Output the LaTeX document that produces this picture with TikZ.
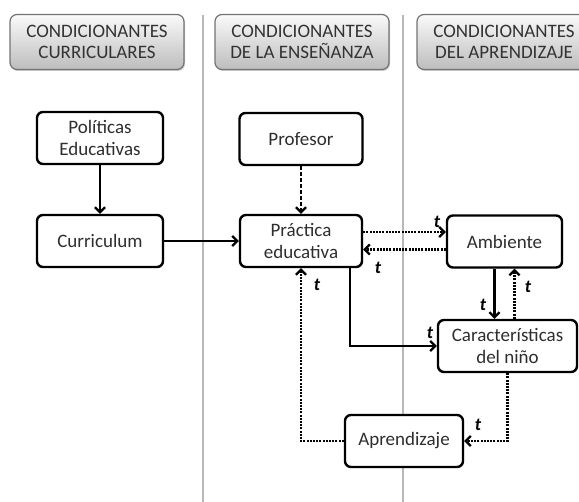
\documentclass[tikz,border=0pt]{standalone}
\usepackage{fontspec}
\setmainfont{Carlito}
\usetikzlibrary{arrows.meta,shadows}

\begin{document}
\begin{tikzpicture}[x=1pt,y=-1pt,
	every node/.style={align=center},
	header/.style={draw=black!55, line width=1.2pt, rounded corners=7pt,
		top color=black!2, bottom color=black!26, text=black!80,
		font=\fontsize{19}{21}\selectfont, minimum width=174pt, minimum height=55pt,
		drop shadow={shadow xshift=1pt,shadow yshift=-1.5pt,opacity=0.4}},
	block/.style={draw, line width=2.4pt, rounded corners=6pt, fill=white,
		text=black!82, font=\fontsize{19}{22}\selectfont, minimum height=52pt,
		drop shadow={shadow xshift=1pt,shadow yshift=-1pt,opacity=0.25}},
	separator/.style={draw=black!28, line width=2.5pt},
	link/.style={line width=2.3pt, -{Straight Barb[length=5pt,width=10pt]}},
	feedback/.style={link, dash pattern=on 2pt off 1.2pt},
	tlabel/.style={font=\fontsize{18}{18}\selectfont\bfseries\itshape, inner sep=0pt}]
\clip (0,0) rectangle (579,502);

% columnas
\draw[separator] (203,15) -- (203,502);
\draw[separator] (403,15) -- (403,502);

\node[header] (hcur) at (97,42) {CONDICIONANTES\\CURRICULARES};
\node[header] (hens) at (302,42) {CONDICIONANTES\\DE LA ENSEÑANZA};
\node[header] (hapr) at (504,42) {CONDICIONANTES\\DEL APRENDIZAJE};

\node[block, minimum width=126pt] (pol) at (100,138) {Políticas\\Educativas};
\node[block, minimum width=126pt] (cur) at (100,241) {Curriculum};
\node[block, minimum width=123pt] (prof) at (301,139) {Profesor};
\node[block, minimum width=122pt] (prac) at (301,241) {Práctica\\educativa};
\node[block, minimum width=115pt] (amb) at (504.5,241.5) {Ambiente};
\node[block, minimum width=139pt] (car) at (507.5,346) {Características\\del niño};
\node[block, minimum width=118pt] (apr) at (404,441) {Aprendizaje};

\draw[link] (pol) -- (cur);
\draw[link] (cur) -- (prac);
\draw[link, dash pattern=on 4pt off 2pt] (prof) -- (prac);
\draw[feedback] ([yshift=9pt]prac.east) -- ([yshift=9pt]prac.east -| amb.west);
\draw[feedback] ([yshift=-8pt]amb.west) -- ([yshift=-8pt]amb.west -| prac.east);
\draw[link] ([xshift=-10pt]amb.south) -- ([xshift=-10pt]amb.south |- car.north);
\draw[feedback] ([xshift=10pt]amb.south |- car.north) -- ([xshift=10pt]amb.south);
\draw[link] ([xshift=49pt]prac.south) |- (car.west);
\draw[feedback] (car.south) |- (apr.east);
\draw[feedback] (apr.west) -| (prac.south);

% etiquetas t
\node[tlabel] (t1) at (437,222) {t};
\node[tlabel] (t2) at (378,268) {t};
\node[tlabel] (t3) at (483,305) {t};
\node[tlabel] (t4) at (528,287) {t};
\node[tlabel] (t5) at (430,333) {t};
\node[tlabel] (t6) at (317,285) {t};
\node[tlabel] (t7) at (478,425) {t};
\end{tikzpicture}
\end{document}
